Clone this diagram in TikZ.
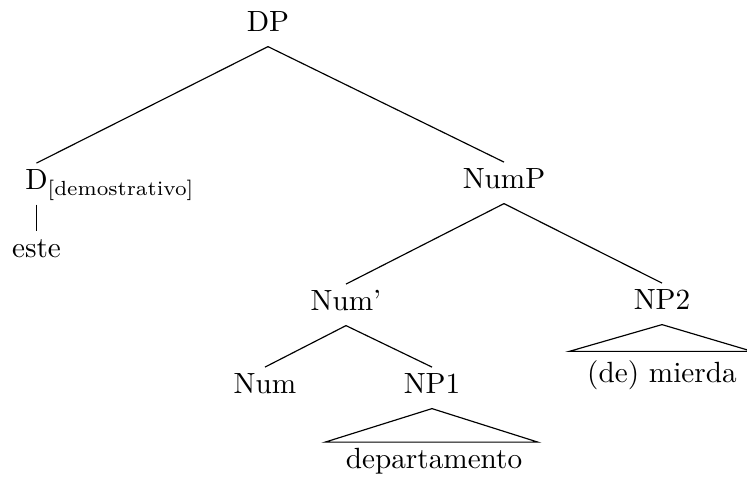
\documentclass[tikz,border=0pt]{standalone}
\usepackage{amsmath,amssymb}
\usepackage{tikz}

\tikzset{cat/.style={inner sep=0pt,text height=9pt,text depth=4.8pt,anchor=base}}

\begin{document}
\begin{tikzpicture}[x=0.342pt,y=-0.342pt]
  \useasboundingbox (0,0) rectangle (747,477);
  \node[cat] (dp) at (268,32) {DP};
  \node[cat] (d) at (36.5,190) {D\rlap{$_{\text{[demostrativo]}}$}};
  \node[cat] (este) at (36.5,258) {este};
  \node[cat] (nump) at (504,189) {NumP};
  \node[cat] (numbar) at (346,311) {Num'};
  \node[cat] (np2) at (662,310) {NP2};
  \node[cat] (num) at (265,394) {Num};
  \node[cat] (np1) at (432,394) {NP1};
  \node[cat] (dept) at (434,469) {departamento};
  \node[cat] (mierda) at (662,383) {(de) mierda};
  \draw (dp.south) -- (d.north);
  \draw (dp.south) -- (nump.north);
  \draw (d.south) -- (este.north);
  \draw (nump.south) -- (numbar.north);
  \draw (nump.south) -- (np2.north);
  \draw (numbar.south) -- (num.north);
  \draw (numbar.south) -- (np1.north);
  % roofs
  \draw (np1.south) -- ([xshift=-20*0.342pt]dept.north west)
    -- ([xshift=15*0.342pt]dept.north east) -- cycle;
  \draw (np2.south) -- ([xshift=-17.5*0.342pt,yshift=1.6pt]mierda.north west)
    -- ([xshift=15*0.342pt,yshift=1.6pt]mierda.north east) -- cycle;
\end{tikzpicture}
\end{document}
